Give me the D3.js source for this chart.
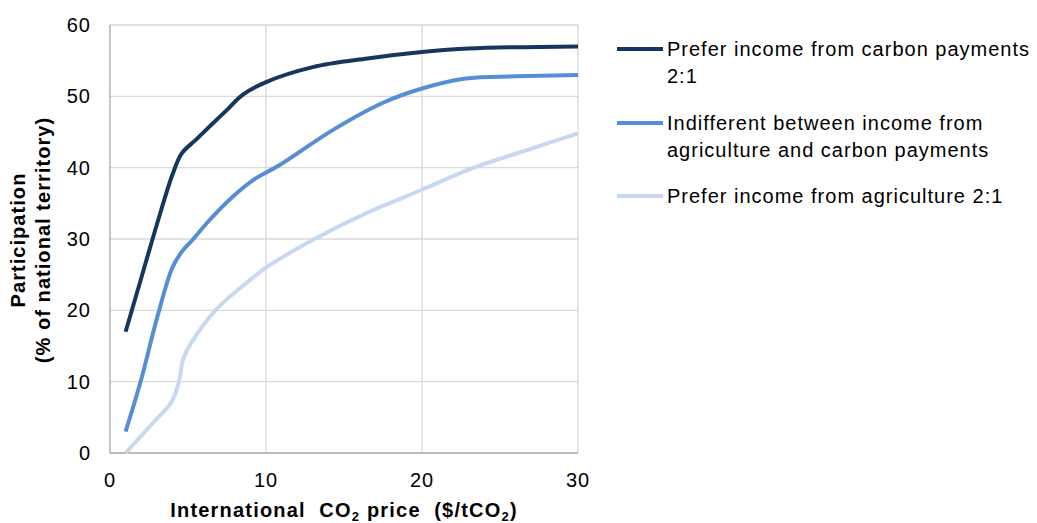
<!DOCTYPE html>
<html><head><meta charset="utf-8">
<script src="https://cdn.jsdelivr.net/npm/d3@7"></script>
<style>
body{margin:0;background:#fff;}
text{font-family:"Liberation Sans",Arial,sans-serif;fill:#000;}
</style></head>
<body><svg id="c" width="1037" height="523"></svg>
<script>
// International CO2 price ($/tCO2) at which each series was read
const carbonPrefX = [1,2,3,4,4.6,5.5,6.4,7.5,8.5,10,13,16.5,20,23,30];
const carbonPrefY = [17,24.5,32,39,42,43.9,45.8,48.1,50.2,52,54.1,55.3,56.2,56.7,57];
const indifferentX = [1,2,3,4,4.6,5.3,6.4,7.9,9.2,10.9,14.3,17.5,20,22.8,26,30];
const indifferentY = [3,10.3,18.8,26,28.2,29.9,32.7,36,38.3,40.4,45.3,49.1,51.1,52.5,52.8,53];
const agriPrefX = [1,2,3,3.9,4.4,4.7,5.2,6.8,9,10,13.2,16.5,20,23.2,26.5,30];
const agriPrefY = [0,2.4,4.8,7,9.8,13.2,15.4,20.1,24.3,26,30.1,33.7,36.9,39.9,42.3,44.8];
const seriesNames = ["Prefer income from carbon payments\n2:1","Indifferent between income from\nagriculture and carbon payments","Prefer income from agriculture 2:1"];
const seriesColors = ["#17365d","#558ed5","#c6d9f1"];
const xTicks = [0,10,20,30];
const yTicks = [0,10,20,30,40,50,60];

const svg = d3.select("#c");
const x = d3.scaleLinear().domain([0,30]).range([110,578]);
const y = d3.scaleLinear().domain([0,60]).range([453,25]);

// gridlines
svg.append("g").selectAll("line").data(yTicks.filter(d=>d>0)).join("line")
  .attr("x1",x(0)).attr("x2",x(30)).attr("y1",d=>y(d)).attr("y2",d=>y(d))
  .attr("stroke","#d9d9d9").attr("stroke-width",1.3);
svg.append("g").selectAll("line").data(xTicks.filter(d=>d>0)).join("line")
  .attr("y1",y(0)).attr("y2",y(60)).attr("x1",d=>x(d)).attr("x2",d=>x(d))
  .attr("stroke","#d9d9d9").attr("stroke-width",1.3);
// axis lines
svg.append("line").attr("x1",x(0)).attr("x2",x(0)).attr("y1",y(0)).attr("y2",y(60)).attr("stroke","#a6a6a6").attr("stroke-width",1.3);
svg.append("line").attr("x1",x(0)).attr("x2",x(30)).attr("y1",y(0)).attr("y2",y(0)).attr("stroke","#a6a6a6").attr("stroke-width",1.3);

// tick labels
svg.append("g").selectAll("text").data(yTicks).join("text")
  .attr("x",91).attr("y",d=>y(d)+7).attr("text-anchor","end")
  .attr("font-size",20).attr("letter-spacing",1).text(d=>d);
svg.append("g").selectAll("text").data(xTicks).join("text")
  .attr("x",d=>x(d)).attr("y",487).attr("text-anchor","middle")
  .attr("font-size",20).attr("letter-spacing",1).text(d=>d);

// series lines
const series = [
  {xs:carbonPrefX, ys:carbonPrefY},
  {xs:indifferentX, ys:indifferentY},
  {xs:agriPrefX, ys:agriPrefY}
];
[2,1,0].forEach(k=>{
  const s = series[k];
  const pts = s.xs.map((v,i)=>[v,s.ys[i]]);
  const line = d3.line().x(d=>x(d[0])).y(d=>y(d[1])).curve(d3.curveCatmullRom.alpha(0.5));
  svg.append("path").datum(pts).attr("d",line).attr("fill","none")
    .attr("stroke",seriesColors[k]).attr("stroke-width",4).attr("stroke-linejoin","round");
});

// legend
const legY = [49,123,196];
seriesNames.forEach((nm,k)=>{
  svg.append("line").attr("x1",617).attr("x2",663).attr("y1",legY[k]).attr("y2",legY[k])
    .attr("stroke",seriesColors[k]).attr("stroke-width",4);
  const t = svg.append("text").attr("x",667).attr("y",legY[k]+7).attr("font-size",20).attr("letter-spacing",1);
  nm.split("\n").forEach((ln,j)=>{
    t.append("tspan").attr("x",667).attr("dy",j===0?0:26.5).text(ln);
  });
});

// axis titles
const yt = svg.append("text").attr("transform","translate(30,240) rotate(-90)")
  .attr("text-anchor","middle").attr("font-size",20).attr("font-weight","bold").attr("letter-spacing",1.05);
yt.append("tspan").attr("x",0).attr("dy",-5).text("Participation");
yt.append("tspan").attr("x",0).attr("dy",25).text("(% of national territory)");

const xt = svg.append("text").attr("x",344).attr("y",517).attr("text-anchor","middle")
  .attr("font-size",20).attr("font-weight","bold").attr("letter-spacing",1.2).attr("xml:space","preserve");
xt.append("tspan").text("International  CO");
xt.append("tspan").attr("font-size",13).attr("dy",4).text("2");
xt.append("tspan").attr("dy",-4).text(" price  ($/tCO");
xt.append("tspan").attr("font-size",13).attr("dy",4).text("2");
xt.append("tspan").attr("dy",-4).text(")");
</script></body></html>
